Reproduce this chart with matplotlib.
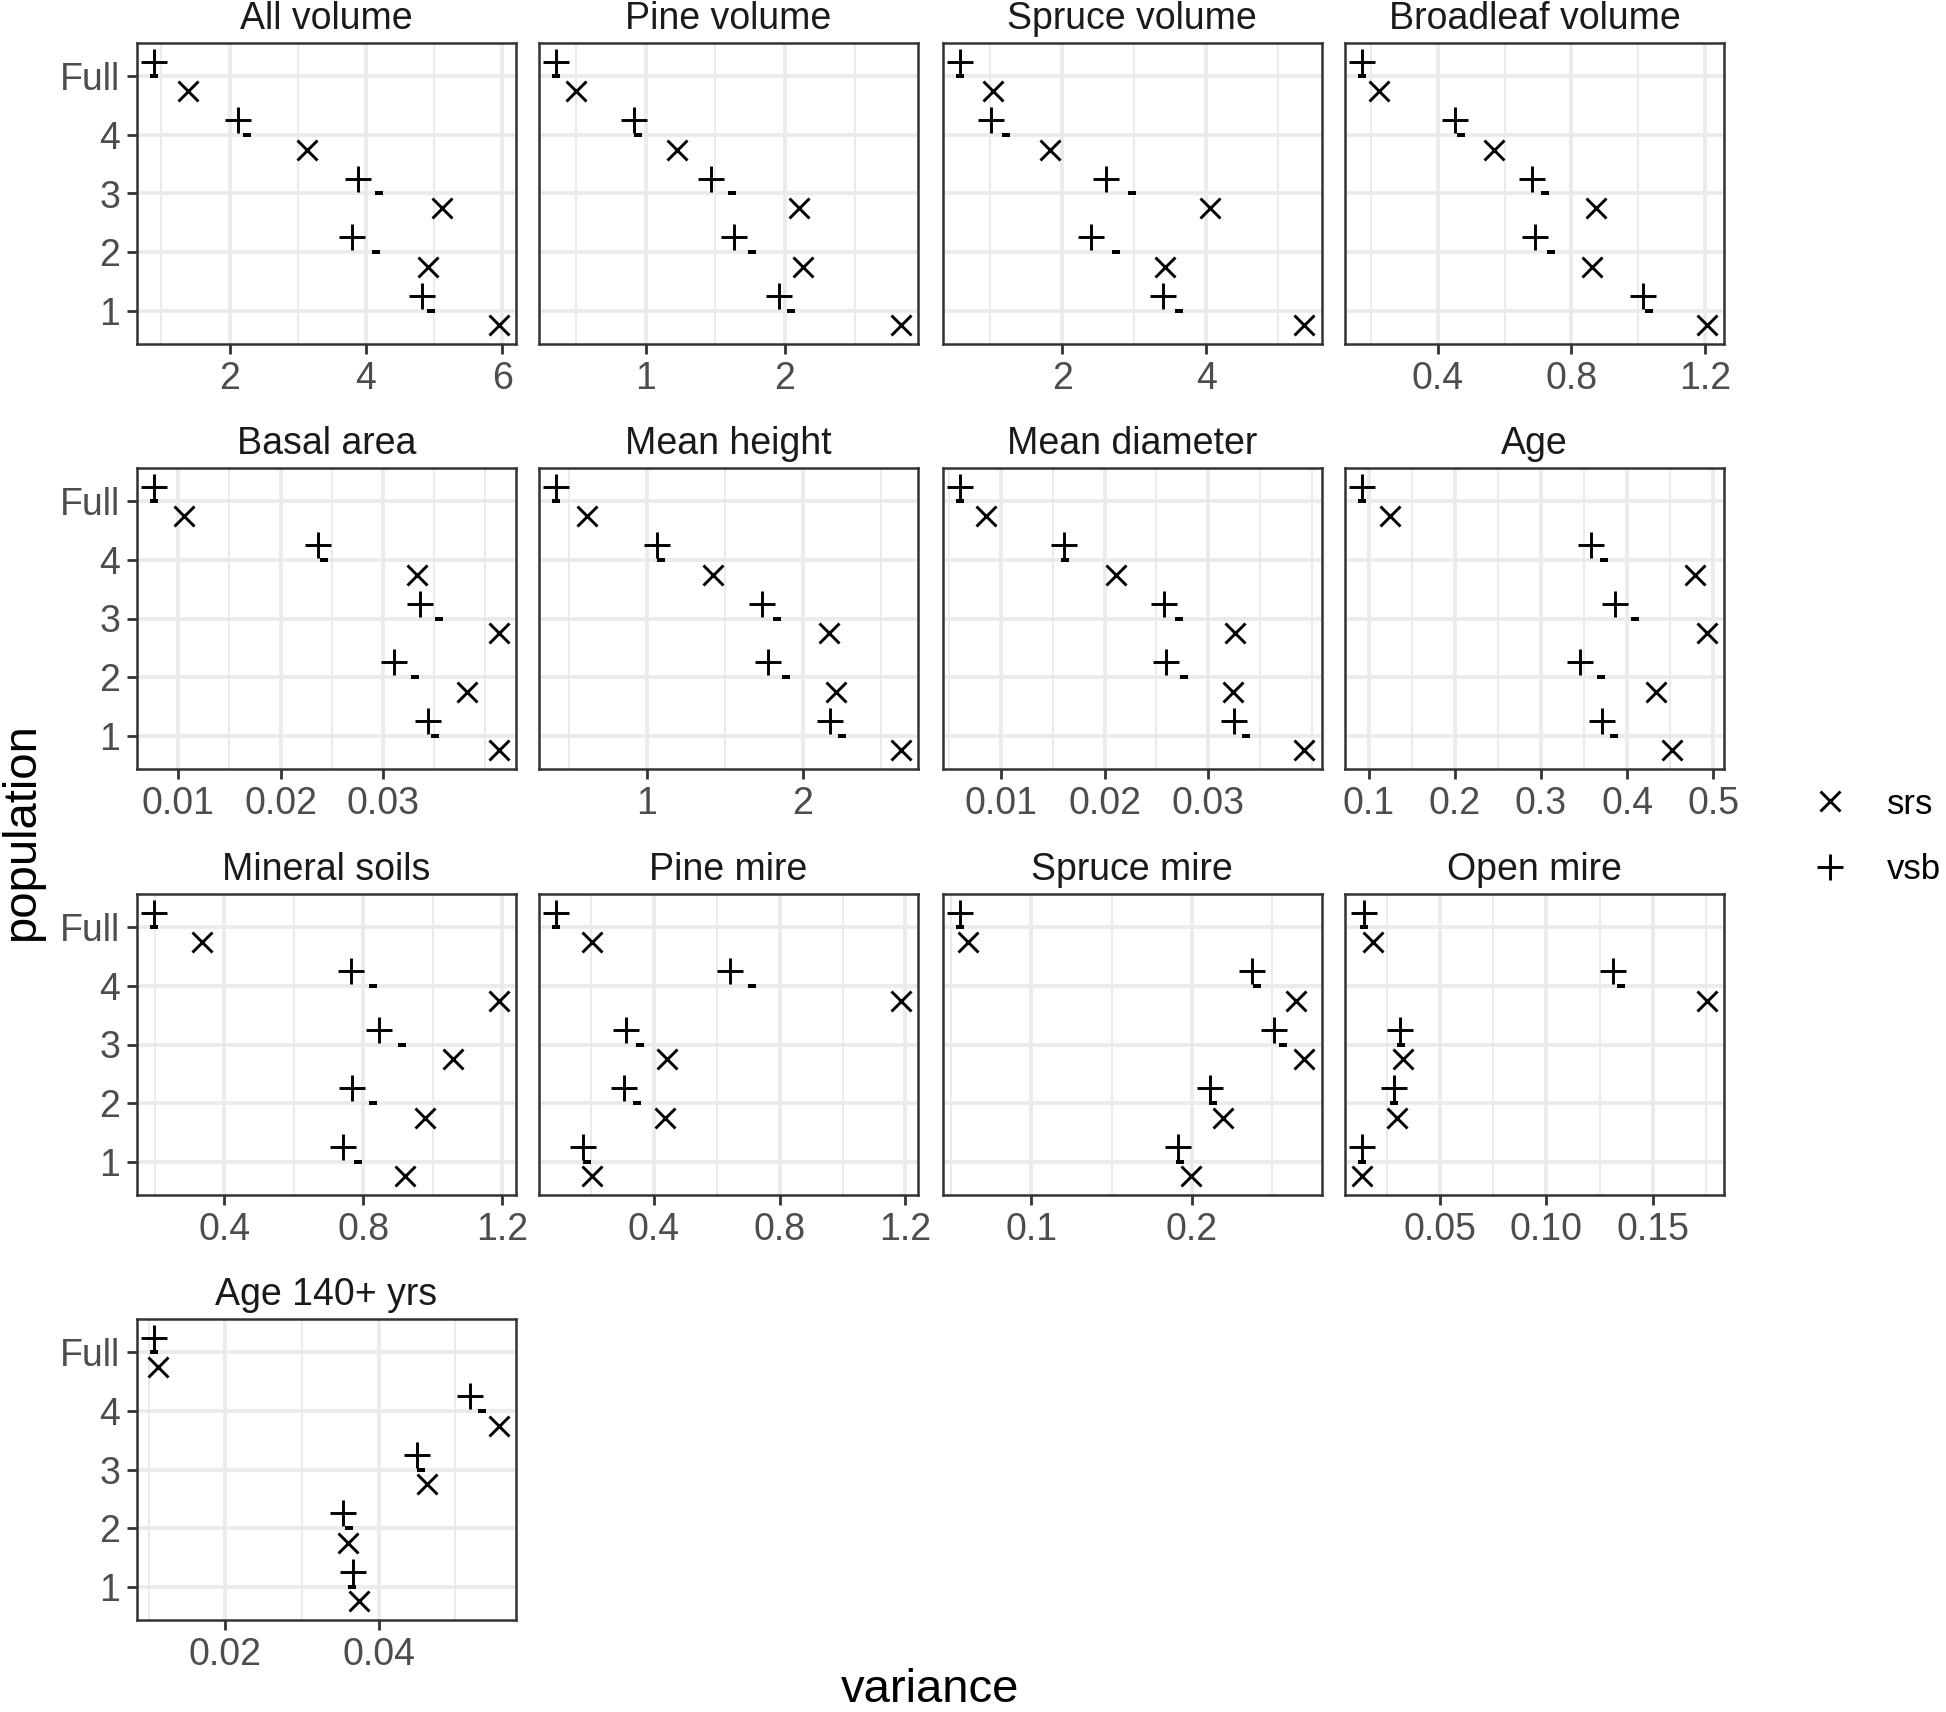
import matplotlib

matplotlib.use("Agg")
import matplotlib.pyplot as plt
import numpy as np
from matplotlib.lines import Line2D
from matplotlib.path import Path

plt.rcParams["font.family"] = ["Liberation Sans", "DejaVu Sans"]

# population levels, bottom to top
levels = ["1", "2", "3", "4", "Full"]

panel_titles = [
    "All volume", "Pine volume", "Spruce volume", "Broadleaf volume",
    "Basal area", "Mean height", "Mean diameter", "Age",
    "Mineral soils", "Pine mire", "Spruce mire", "Open mire",
    "Age 140+ yrs",
]

# variance per panel, in level order 1, 2, 3, 4, Full
srs_var = [
    [5.95, 4.91, 5.12, 3.14, 1.39],
    [2.83, 2.13, 2.10, 1.229, 0.503],
    [5.36, 3.43, 4.05, 1.83, 1.04],
    [1.205, 0.861, 0.874, 0.567, 0.223],
    [0.0413, 0.0382, 0.0413, 0.0333, 0.01054],
    [2.63, 2.213, 2.169, 1.421, 0.614],
    [0.0393, 0.0324, 0.0326, 0.0211, 0.00856],
    [0.4525, 0.4336, 0.4925, 0.4789, 0.1249],
    [0.920, 0.979, 1.058, 1.191, 0.336],
    [0.202, 0.435, 0.443, 1.185, 0.202],
    [0.1992, 0.2190, 0.2698, 0.2645, 0.0609],
    [0.0136, 0.0297, 0.0327, 0.1752, 0.01848],
    [0.03744, 0.0360, 0.04629, 0.0557, 0.01124],
]

vsb_var = [
    [4.82, 3.80, 3.89, 2.13, 0.895],
    [1.96, 1.635, 1.468, 0.92, 0.36],
    [3.40, 2.40, 2.605, 1.006, 0.577],
    [1.0135, 0.691, 0.682, 0.450, 0.1736],
    [0.03435, 0.03108, 0.0336, 0.02363, 0.00766],
    [2.177, 1.776, 1.736, 1.067, 0.417],
    [0.0325, 0.0259, 0.0257, 0.0161, 0.00599],
    [0.3713, 0.3457, 0.3864, 0.358, 0.0925],
    [0.743, 0.768, 0.846, 0.766, 0.198],
    [0.175, 0.306, 0.310, 0.641, 0.0893],
    [0.1911, 0.2113, 0.2512, 0.2371, 0.0556],
    [0.0136, 0.0285, 0.0312, 0.1312, 0.01455],
    [0.03663, 0.03533, 0.0450, 0.0519, 0.0107],
]

# small dash drawn at the level line next to each vsb cross
vsb_mark = [
    [4.95, 4.15, 4.19, 2.26, 0.895],
    [2.04, 1.76, 1.623, 0.946, 0.36],
    [3.62, 2.75, 2.965, 1.22, 0.577],
    [1.031, 0.740, 0.721, 0.470, 0.1736],
    [0.0351, 0.0331, 0.0355, 0.02423, 0.00766],
    [2.252, 1.89, 1.835, 1.09, 0.417],
    [0.0337, 0.0277, 0.0272, 0.0162, 0.00599],
    [0.385, 0.3698, 0.409, 0.373, 0.0925],
    [0.786, 0.828, 0.913, 0.828, 0.198],
    [0.186, 0.345, 0.357, 0.711, 0.0893],
    [0.1927, 0.2129, 0.2565, 0.2403, 0.0556],
    [0.0136, 0.0285, 0.0318, 0.1352, 0.01455],
    [0.0365, 0.03618, 0.04553, 0.0535, 0.0107],
]

x_tick_labels = [
    ["2", "4", "6"], ["1", "2"], ["2", "4"], ["0.4", "0.8", "1.2"],
    ["0.01", "0.02", "0.03"], ["1", "2"], ["0.01", "0.02", "0.03"],
    ["0.1", "0.2", "0.3", "0.4", "0.5"],
    ["0.4", "0.8", "1.2"], ["0.4", "0.8", "1.2"], ["0.1", "0.2"],
    ["0.05", "0.10", "0.15"], ["0.02", "0.04"],
]

W, H, DPI = 1946, 1712, 200
COL_LEFT = [137, 539, 942.5, 1345]
ROW_TOP = [43, 468, 894, 1319]
PW, PH = 379, 301
GRID = "#EBEBEB"
DARK = "#333333"

DASH = Path([(-0.5, -0.3), (0.5, -0.3), (0.5, 0.3), (-0.5, 0.3), (-0.5, -0.3)],
            [Path.MOVETO, Path.LINETO, Path.LINETO, Path.LINETO, Path.CLOSEPOLY])


def minor_breaks(major, lo, hi):
    """ggplot 的 regular_minor_breaks：中点 + 两端外延的一个主刻度。"""
    b = list(major)
    d = b[1] - b[0]
    if lo < b[0]:
        b = [b[0] - d] + b
    if hi > b[-1]:
        b = b + [b[-1] + d]
    mids = [(a + c) / 2 for a, c in zip(b[:-1], b[1:])]
    ext = [v for v in b if all(abs(v - m) > 1e-12 for m in major)]
    return [v for v in mids + ext if lo <= v <= hi]


fig = plt.figure(figsize=(W / DPI, H / DPI), dpi=DPI)
ypos = np.arange(1, len(levels) + 1)

for i, title in enumerate(panel_titles):
    r, c = divmod(i, 4)
    ax = fig.add_axes([COL_LEFT[c] / W, 1 - (ROW_TOP[r] + PH) / H, PW / W, PH / H])
    vals = np.concatenate([srs_var[i], vsb_var[i], vsb_mark[i]])
    lo, hi = vals.min(), vals.max()
    pad = 0.05 * (hi - lo)
    lo, hi = lo - pad, hi + pad
    ax.set_xlim(lo, hi)
    ax.set_ylim(0.43, 5.57)

    breaks = [float(s) for s in x_tick_labels[i]]
    for v in minor_breaks(breaks, lo, hi):
        ax.axvline(v, color=GRID, lw=0.7, zorder=0)
    for v in breaks:
        ax.axvline(v, color=GRID, lw=1.4, zorder=0)
    for v in ypos:
        ax.axhline(v, color=GRID, lw=1.4, zorder=0)

    ax.plot(srs_var[i], ypos - 0.25, ls="none", marker="x", ms=7.1, mew=1.05, color="black")
    ax.plot(vsb_var[i], ypos + 0.25, ls="none", marker="+", ms=9.3, mew=1.05, color="black")
    ax.plot(vsb_mark[i], ypos, ls="none", marker=DASH, ms=2.6, mew=0, color="black")

    ax.set_xticks(breaks, x_tick_labels[i])
    if c == 0:
        ax.set_yticks(ypos, levels)
    else:
        ax.set_yticks([])
    ax.tick_params(length=3.6, width=1.0, color=DARK, labelcolor="#4D4D4D",
                   labelsize=13.5, pad=2.5)
    for s in ax.spines.values():
        s.set_color(DARK)
        s.set_linewidth(0.9)
    ax.set_title(title, fontsize=13.5, color="#1A1A1A", pad=5.0)

fig.text(930.5 / W, 1 - 1690 / H, "variance", ha="center", va="center", fontsize=17)
fig.text(22 / W, 1 - 832 / H, "population", ha="center", va="center",
         rotation=90, fontsize=17)

handles = [
    Line2D([], [], ls="none", marker="x", ms=7.1, mew=1.05, color="black"),
    Line2D([], [], ls="none", marker="+", ms=9.3, mew=1.05, color="black"),
]
fig.legend(handles, ["srs", "vsb"], loc="center left",
           bbox_to_anchor=(1816 / W, 1 - 837 / H), frameon=False, fontsize=12.5,
           handlelength=0.8, handletextpad=1.25, labelspacing=0.95,
           borderpad=0, borderaxespad=0)

fig.savefig("out.png", dpi=DPI)
